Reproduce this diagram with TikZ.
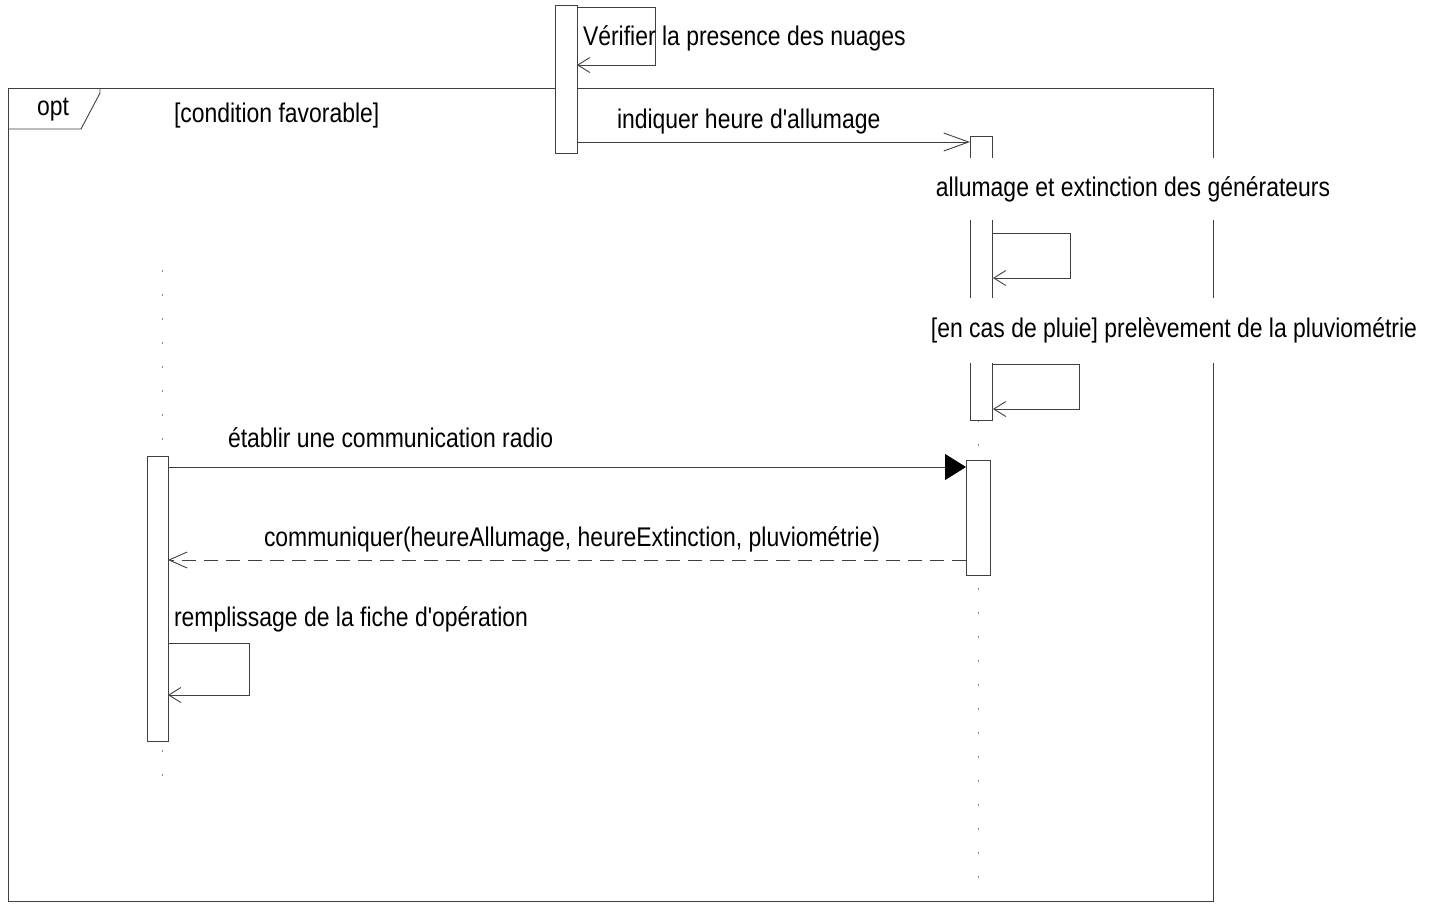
\documentclass[tikz,border=0pt]{standalone}
\usepackage{fontspec}
\setmainfont{Liberation Sans}[FakeStretch=0.85, Ligatures=TeXOff]
\usetikzlibrary{arrows.meta}

\begin{document}
\begin{tikzpicture}[x=1pt,y=-1pt,
  every node/.style={font=\fontsize{27}{32}\selectfont, inner sep=0pt, outer sep=0pt},
  ln/.style={draw=black!75, line width=0.9pt},
  act/.style={draw=black!75, line width=0.9pt, fill=white, anchor=north west},
  lifeline/.style={draw=black!45, line width=1pt, dash pattern=on 2pt off 22pt},
  msg/.style={ln, -{Straight Barb[length=25pt,width=18pt]}},
  call/.style={ln, -{Triangle[length=21pt,width=26pt,fill=black,color=black]}},
  reply/.style={ln, dash pattern=on 14pt off 8pt, -{Straight Barb[length=18pt,width=16pt]}},
  selfmsg/.style={ln, -{Straight Barb[length=12pt,width=15pt]}},
  lbl/.style={anchor=base west},
  cover/.style={fill=white, anchor=center}
]
\useasboundingbox (0,0) rectangle (1432,903);

% combined fragment "opt"
\node[ln, anchor=north west, minimum width=1205pt, minimum height=813pt] (frame) at (8,88) {};
\coordinate (tabA) at (8,129);
\coordinate (tabB) at (81,129);
\coordinate (tabC) at (100,93);
\coordinate (tabD) at (100,88);
\draw[ln] (tabA) -- (tabB) -- (tabC) -- (tabD);
\node[lbl] (optlbl) at (37,115) {opt};
\node[lbl] (guard) at (174,122) {[condition favorable]};

% lifelines
\coordinate (llA) at (162,270);
\coordinate (llAend) at (162,790);
\coordinate (llB) at (978,420);
\coordinate (llBend) at (978,880);
\draw[lifeline] (llA) -- (llAend);
\draw[lifeline] (llB) -- (llBend);

% activation bars
\node[act, minimum width=22pt, minimum height=148pt] (actA) at (555,5) {};
\node[act, minimum width=22pt, minimum height=284pt] (actB) at (970,136) {};
\node[act, minimum width=24pt, minimum height=115pt] (actC) at (966,460) {};
\node[act, minimum width=21pt, minimum height=285pt] (actD) at (147,456) {};

% self message: verifier
\coordinate (s1a) at (577,7);
\coordinate (s1c) at (655,65);
\coordinate (s1b) at (577,65);
\draw[selfmsg] (s1a) -| (s1c) |- (s1b);
\node[lbl] (l1) at (583,45) {Vérifier la presence des nuages};

% indiquer heure d'allumage
\coordinate (m1a) at (577,142);
\coordinate (m1b) at (970,142);
\draw[msg] (m1a) -- (m1b);
\node[lbl] (l2) at (617,128) {indiquer heure d'allumage};

% self messages on the second participant
\coordinate (s2a) at (993,233);
\coordinate (s2c) at (1070,278);
\coordinate (s2b) at (993,278);
\draw[selfmsg] (s2a) -| (s2c) |- (s2b);
\coordinate (s3a) at (993,364);
\coordinate (s3c) at (1079,409);
\coordinate (s3b) at (993,409);
\draw[selfmsg] (s3a) -| (s3c) |- (s3b);

% labels drawn on white, hiding what lies behind them
\node[cover, minimum width=495pt, minimum height=62pt] (l3) at (1133,189) {allumage et extinction des générateurs};
\node[cover, minimum width=500pt, minimum height=65pt] (l4) at (1174,330.5) {[en cas de pluie] prelèvement de la pluviométrie};

% etablir une communication radio
\coordinate (m2a) at (168,467);
\coordinate (m2b) at (966,467);
\draw[call] (m2a) -- (m2b);
\node[lbl] (l5) at (228,447) {établir une communication radio};

% reply
\coordinate (m3a) at (966,560);
\coordinate (m3b) at (168,560);
\draw[reply] (m3a) -- (m3b);
\node[lbl] (l6) at (264,546) {communiquer(heureAllumage, heureExtinction, pluviométrie)};

% remplissage
\coordinate (s4a) at (168,643);
\coordinate (s4c) at (249,695);
\coordinate (s4b) at (168,695);
\draw[selfmsg] (s4a) -| (s4c) |- (s4b);
\node[lbl] (l7) at (174,626) {remplissage de la fiche d'opération};
\end{tikzpicture}
\end{document}
